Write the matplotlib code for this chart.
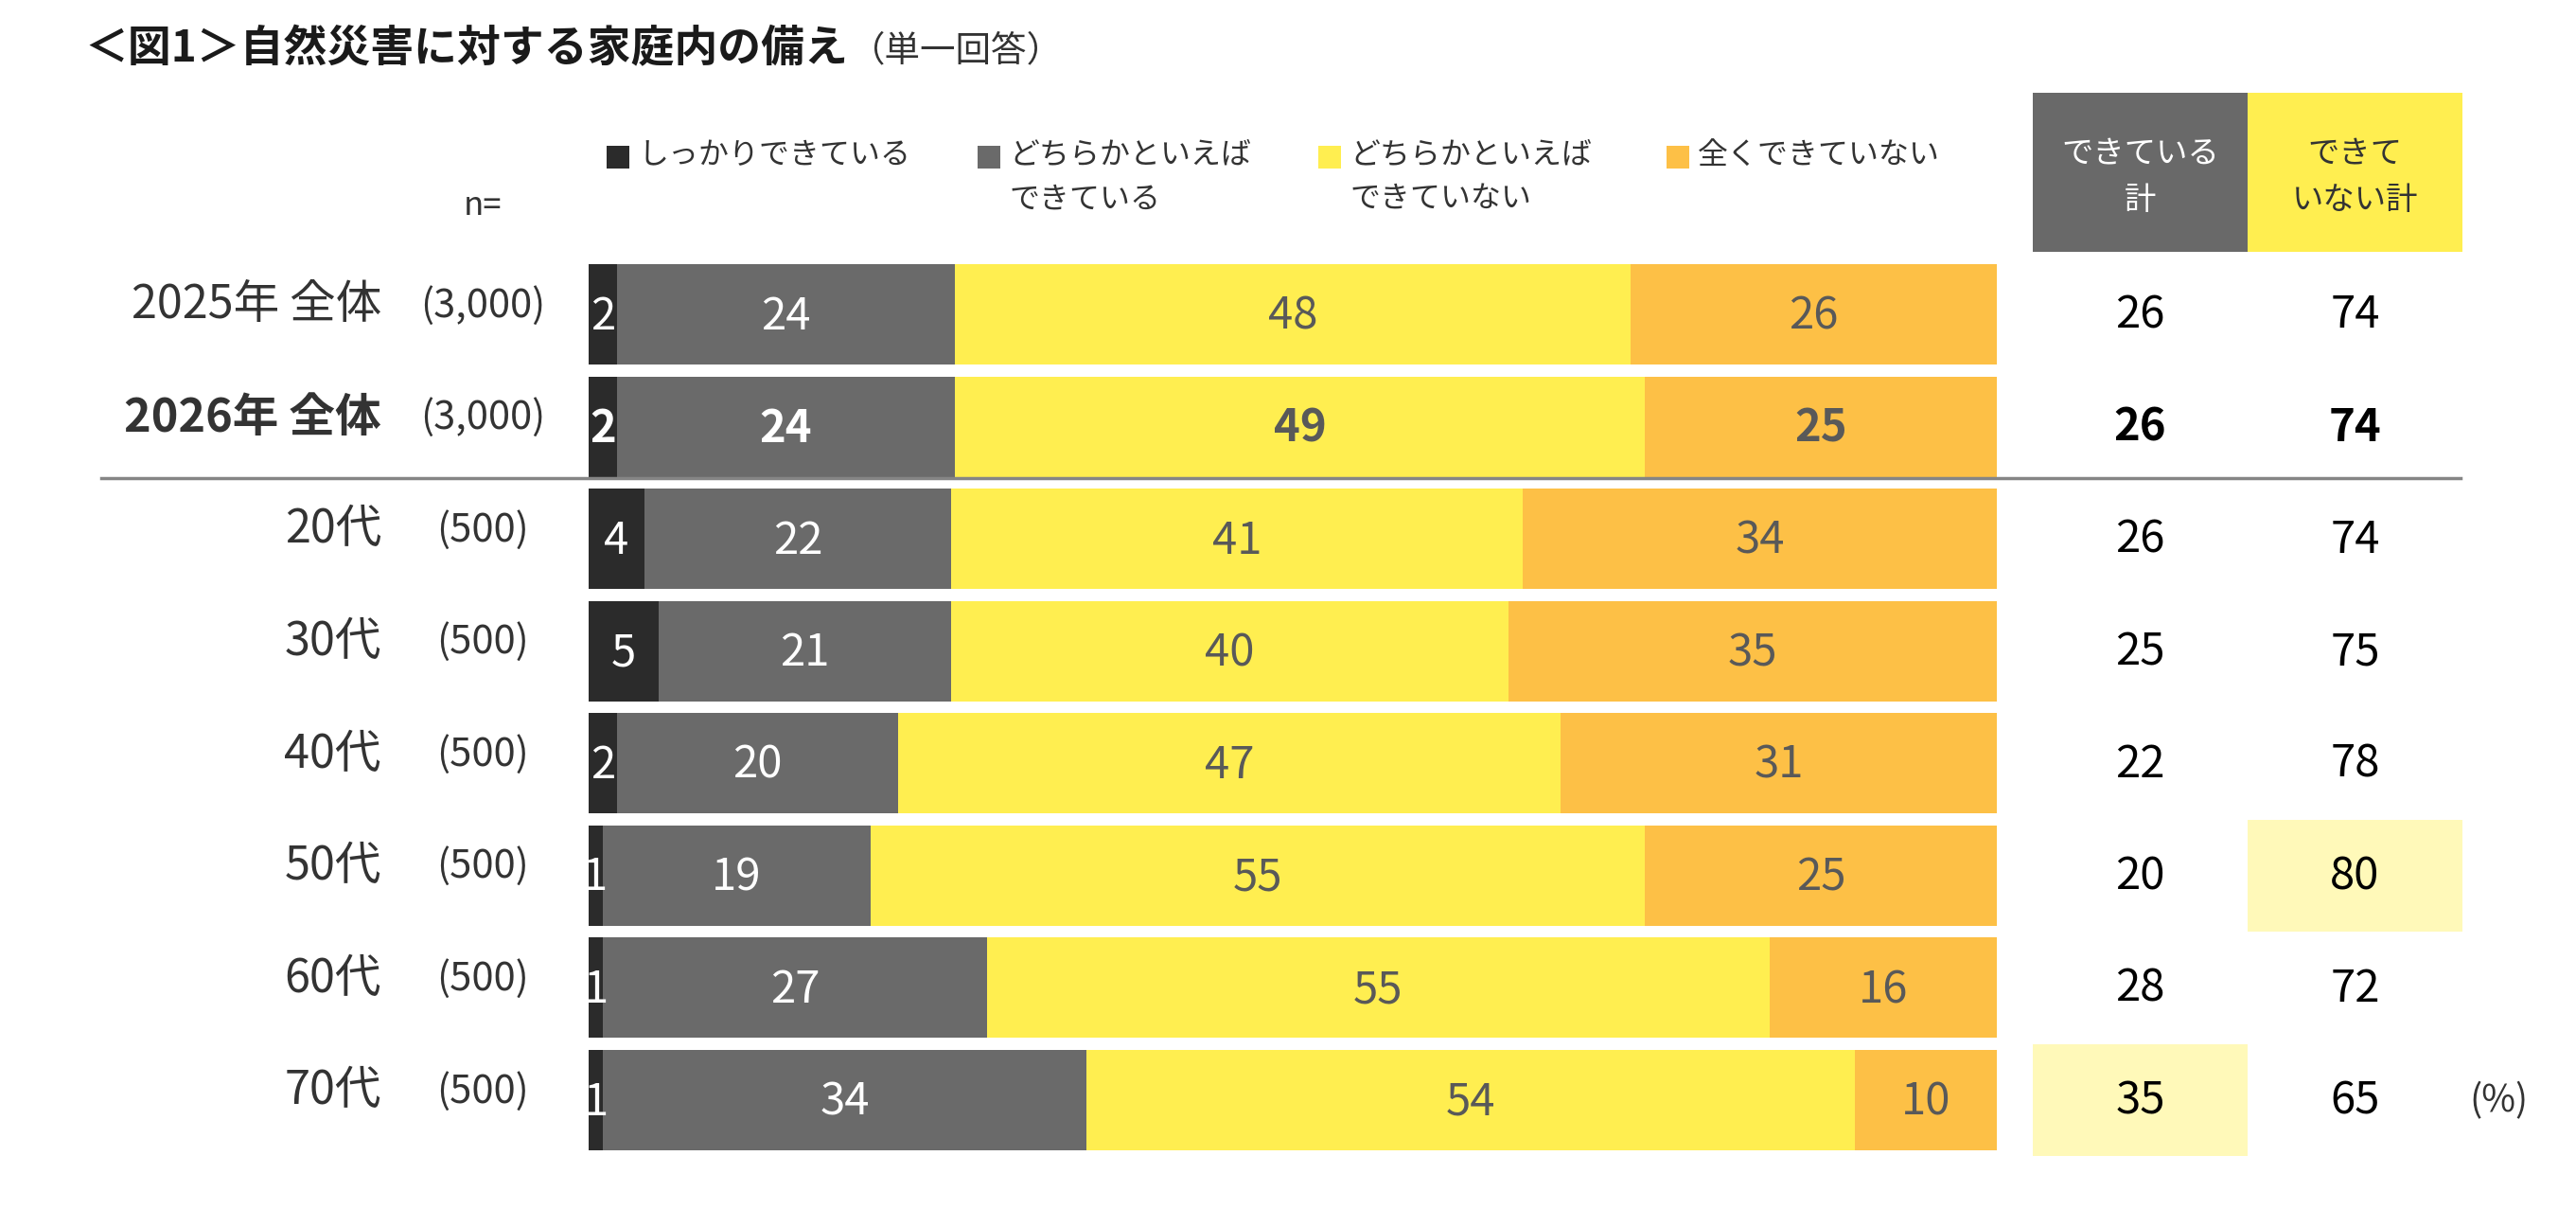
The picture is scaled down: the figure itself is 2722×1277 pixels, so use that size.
import matplotlib
matplotlib.use("Agg")
import matplotlib.pyplot as plt
from matplotlib.patches import Rectangle

plt.rcParams['font.family'] = ['Noto Sans CJK JP', 'DejaVu Sans']

# Data
title = "＜図1＞自然災害に対する家庭内の備え"
subtitle = "（単一回答）"
series = ["しっかりできている", "どちらかといえば\nできている",
          "どちらかといえば\nできていない", "全くできていない"]
groups = ["2025年 全体", "2026年 全体", "20代", "30代", "40代", "50代", "60代", "70代"]
n_sizes = ["(3,000)", "(3,000)", "(500)", "(500)", "(500)", "(500)", "(500)", "(500)"]
firm = [2, 2, 4, 5, 2, 1, 1, 1]
somewhat = [24, 24, 22, 21, 20, 19, 27, 34]
somewhat_not = [48, 49, 41, 40, 47, 55, 55, 54]
not_at_all = [26, 25, 34, 35, 31, 25, 16, 10]
total_ready = [26, 26, 26, 25, 22, 20, 28, 35]
total_not = [74, 74, 74, 75, 78, 80, 72, 65]
total_headers = ["できている\n計", "できて\nいない計"]

# Styles
colors = ["#2b2b2b", "#6a6a6a", "#ffee50", "#fdc046"]
text_colors = ["white", "white", "#595959", "#595959"]
hl_color = "#fff9b9"

# pixel layout -> data coords (bar scale: 0..100 maps to px 622..2110)
def xpx(p):
    return (p - 622) / 14.88

def ypx(p):
    return (p - 332) / 118.57

fig = plt.figure(figsize=(27.22, 12.77), dpi=100)
ax = fig.add_axes([0, 0, 1, 1])
ax.set_xlim(xpx(0), xpx(2722))
ax.set_ylim(ypx(1277), ypx(0))
ax.axis("off")

rows = list(range(len(groups)))
data = [firm, somewhat, somewhat_not, not_at_all]
sums = [sum(v[i] for v in data) for i in rows]

lefts = [0.0] * len(rows)
for k, vals in enumerate(data):
    widths = [vals[i] / sums[i] * 100 for i in rows]
    ax.barh(rows, widths, left=lefts, height=0.894, color=colors[k], linewidth=0)
    for i in rows:
        ax.text(lefts[i] + widths[i] / 2, i + 0.02, str(vals[i]), ha="center", va="center",
                fontsize=34, color=text_colors[k],
                fontweight="bold" if i == 1 else "normal")
    lefts = [lefts[i] + widths[i] for i in rows]

# row labels and n
for i in rows:
    ax.text(xpx(403), i - 0.08, groups[i], ha="right", va="center", fontsize=35,
            color="#333333", fontweight="bold" if i == 1 else "normal")
    ax.text(xpx(510), i - 0.08, n_sizes[i], ha="center", va="center", fontsize=30,
            color="#333333")
ax.text(xpx(510), ypx(218), "n=", ha="center", va="center", fontsize=25, color="#333333")

# separator
ax.plot([xpx(107), xpx(2600)], [ypx(505), ypx(505)], color="#858585", lw=2.5)

# totals columns
col_edges = [2148, 2375, 2602]
col_centers = [xpx((col_edges[j] + col_edges[j + 1]) / 2) for j in range(2)]
head_fc = ["#696969", "#ffee50"]
head_tc = ["white", "#333333"]
for j in range(2):
    x0 = xpx(col_edges[j])
    w = xpx(col_edges[j + 1]) - x0
    ax.add_patch(Rectangle((x0, ypx(98)), w, ypx(266) - ypx(98), color=head_fc[j], lw=0))
    for li, line in enumerate(total_headers[j].split("\n")):
        ax.text(col_centers[j], ypx(162 + 50 * li), line, ha="center", va="center",
                fontsize=24, color=head_tc[j])

totals = [total_ready, total_not]
for j in range(2):
    vals = totals[j]
    age_rows = rows[2:]
    best = max(age_rows, key=lambda i: vals[i])
    x0 = xpx(col_edges[j])
    w = xpx(col_edges[j + 1]) - x0
    ax.add_patch(Rectangle((x0, best - 0.5), w, 1.0, color=hl_color, lw=0))
    for i in rows:
        ax.text(col_centers[j], i + 0.01, str(vals[i]), ha="center", va="center",
                fontsize=34, color="black", fontweight="bold" if i == 1 else "normal")

ax.text(xpx(2640), 7 + 0.01, "(%)", ha="center", va="center", fontsize=28, color="#333333")

# legend
leg_x = [641, 1033, 1393, 1761]
for k, name in enumerate(series):
    ax.add_patch(Rectangle((xpx(leg_x[k]), ypx(154)), xpx(leg_x[k] + 24) - xpx(leg_x[k]),
                           ypx(178) - ypx(154), color=colors[k], lw=0))
    for li, line in enumerate(name.split("\n")):
        ax.text(xpx(leg_x[k] + 33), ypx(164 + 47 * li), line, ha="left", va="center",
                fontsize=23, color="#333333")

# title
ax.text(xpx(89), ypx(52), title, ha="left", va="center", fontsize=33,
        fontweight="bold", color="#1a1a1a")
ax.text(xpx(898), ypx(54), subtitle, ha="left", va="center", fontsize=27, color="#333333")

fig.savefig("out.png", dpi=100)
